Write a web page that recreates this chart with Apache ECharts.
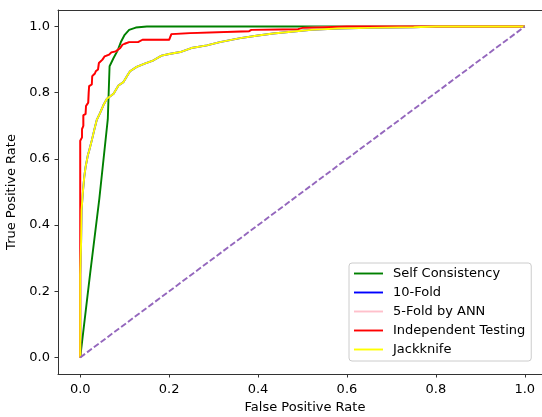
<!DOCTYPE html>
<html>
<head>
<meta charset="utf-8">
<script src="https://cdn.jsdelivr.net/npm/echarts@6/dist/echarts.min.js"></script>
<style>
html,body{margin:0;padding:0;background:#fff;overflow:hidden;}
#chart{width:542px;height:417px;}
</style>
</head>
<body>
<div id="chart"></div>
<script>
// ---- data ----
const tickValues = [0, 0.2, 0.4, 0.6, 0.8, 1.0];
const seriesNames = ['Self Consistency', '10-Fold', '5-Fold by ANN', 'Independent Testing', 'Jackknife'];

const selfFpr = [0, 0.022, 0.043, 0.062, 0.064, 0.066, 0.075, 0.085, 0.092, 0.1, 0.11, 0.125, 0.15, 1.0];
const selfTpr = [0, 0.25, 0.48, 0.72, 0.80, 0.88, 0.905, 0.93, 0.955, 0.975, 0.99, 0.997, 1.0, 1.0];

const indepFpr = [0, 0, 0.004, 0.004, 0.007, 0.007, 0.012, 0.013, 0.018, 0.019, 0.02, 0.026, 0.027, 0.033, 0.035, 0.04, 0.042, 0.05, 0.055, 0.065, 0.07, 0.08, 0.09, 0.095, 0.1, 0.11, 0.13, 0.14, 0.2, 0.205, 0.247, 0.25, 0.38, 0.385, 0.49, 0.5, 0.55, 0.6, 1.0];
const indepTpr = [0, 0.655, 0.665, 0.69, 0.70, 0.732, 0.735, 0.76, 0.77, 0.80, 0.82, 0.825, 0.85, 0.858, 0.865, 0.87, 0.89, 0.90, 0.91, 0.915, 0.922, 0.925, 0.935, 0.945, 0.948, 0.953, 0.953, 0.96, 0.96, 0.977, 0.98, 0.984, 0.986, 0.99, 0.992, 0.996, 0.998, 1.0, 1.0];

const jackFpr = [0, 0, 0.002, 0.003, 0.006, 0.009, 0.012, 0.017, 0.02, 0.026, 0.032, 0.037, 0.045, 0.052, 0.06, 0.075, 0.086, 0.097, 0.105, 0.112, 0.127, 0.145, 0.165, 0.183, 0.2, 0.225, 0.25, 0.285, 0.314, 0.36, 0.4, 0.434, 0.48, 0.52, 0.58, 0.65, 0.75, 0.8, 1.0];
const jackTpr = [0, 0.25, 0.35, 0.445, 0.5, 0.545, 0.575, 0.61, 0.625, 0.656, 0.69, 0.717, 0.74, 0.762, 0.782, 0.797, 0.822, 0.832, 0.85, 0.865, 0.878, 0.888, 0.898, 0.912, 0.917, 0.923, 0.935, 0.943, 0.953, 0.965, 0.973, 0.979, 0.985, 0.99, 0.994, 0.996, 0.998, 1.0, 1.0];

// 10-Fold and 5-Fold curves lie underneath Jackknife / Independent Testing
const tenFoldFpr = jackFpr.slice();
const tenFoldTpr = jackTpr.slice();
const fiveFoldFpr = indepFpr.slice();
const fiveFoldTpr = indepTpr.slice();

const chanceFpr = [0, 1];
const chanceTpr = [0, 1];

function pairs(xs, ys) { return xs.map((x, i) => [x, ys[i]]); }

const FONT = 'DejaVu Sans';
const AX = '#333333';

const chart = echarts.init(document.getElementById('chart'), null, {renderer: 'canvas'});

function lineSeries(name, xs, ys, color) {
  return {
    name: name, type: 'line', data: pairs(xs, ys),
    symbol: 'none', showSymbol: false, smooth: false,
    lineStyle: {color: color, width: 1.9},
    itemStyle: {color: color},
    emphasis: {disabled: true}
  };
}

// the original axes run from -0.05 to 1.05 and are cut off by the image edge;
// the visible part ends at x = 1.039, which is where the grid is made to end here
const option = {
  animation: false,
  backgroundColor: '#ffffff',
  grid: {left: 58, top: 10, width: 485, height: 364, containLabel: false, outerBoundsMode: 'none', show: false},
  xAxis: [{
    type: 'value', min: -0.05, max: 1.041,
    name: 'False Positive Rate', nameLocation: 'middle', nameGap: 26,
    nameTextStyle: {fontFamily: FONT, fontSize: 13, color: '#000', padding: [0, 0, 0, 9]},
    axisLine: {show: true, onZero: false, lineStyle: {color: AX, width: 1}},
    axisTick: {show: true, inside: false, length: 3.5, customValues: tickValues, lineStyle: {color: AX}},
    axisLabel: {customValues: tickValues, margin: 9, fontFamily: FONT, fontSize: 13, color: '#000', formatter: v => v.toFixed(1)},
    splitLine: {show: false}
  }, {
    type: 'value', position: 'top', min: -0.05, max: 1.041,
    axisLine: {show: true, onZero: false, lineStyle: {color: AX, width: 1}},
    axisTick: {show: false}, axisLabel: {show: false}, splitLine: {show: false}
  }],
  yAxis: {
    type: 'value', min: -0.05, max: 1.05,
    name: 'True Positive Rate', nameLocation: 'middle', nameGap: 32,
    nameTextStyle: {fontFamily: FONT, fontSize: 13, color: '#000'},
    axisLine: {show: true, onZero: false, lineStyle: {color: AX, width: 1}},
    axisTick: {show: true, inside: false, length: 3.5, customValues: tickValues, lineStyle: {color: AX}},
    axisLabel: {customValues: tickValues, margin: 8, fontFamily: FONT, fontSize: 13, color: '#000', formatter: v => v.toFixed(1)},
    splitLine: {show: false}
  },
  legend: {
    data: seriesNames,
    orient: 'vertical', left: 349, top: 263,
    padding: [4, 6, 5, 5],
    itemWidth: 29, itemHeight: 14, itemGap: 6,
    icon: 'path://M0,0L29,0L29,1.9L0,1.9Z',
    borderColor: '#cccccc', borderWidth: 1, borderRadius: 3,
    backgroundColor: 'rgba(255,255,255,0.8)',
    textStyle: {fontFamily: FONT, fontSize: 13, color: '#000', padding: [0, 0, 0, 5]},
    selectedMode: false
  },
  series: [
    lineSeries(seriesNames[0], selfFpr, selfTpr, '#008000'),
    lineSeries(seriesNames[1], tenFoldFpr, tenFoldTpr, '#0000ff'),
    lineSeries(seriesNames[2], fiveFoldFpr, fiveFoldTpr, '#ffc0cb'),
    lineSeries(seriesNames[3], indepFpr, indepTpr, '#ff0000'),
    lineSeries(seriesNames[4], jackFpr, jackTpr, '#ffff00'),
    {
      name: 'chance', type: 'line', data: pairs(chanceFpr, chanceTpr),
      symbol: 'none', showSymbol: false,
      lineStyle: {color: '#9467bd', width: 1.9, type: [6, 2.5]},
      emphasis: {disabled: true}
    }
  ]
};
chart.setOption(option);
</script>
</body>
</html>
